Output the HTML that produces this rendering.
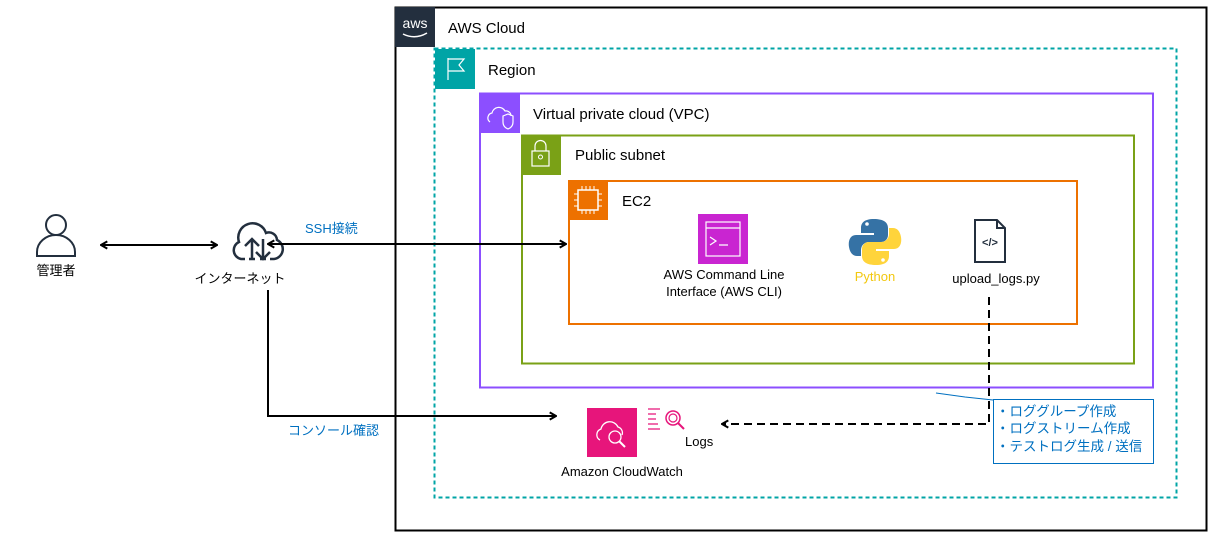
<!DOCTYPE html>
<html><head><meta charset="utf-8"><style>
html,body{margin:0;padding:0;background:#fff;}
svg{display:block;font-family:"Liberation Sans","Noto Sans CJK JP",sans-serif;}
</style></head><body>
<svg width="1216" height="543" viewBox="0 0 1216 543" xmlns="http://www.w3.org/2000/svg">
<defs>
<marker id="ah" viewBox="0 0 10 10" refX="9" refY="5" markerWidth="9" markerHeight="10" orient="auto-start-reverse" markerUnits="userSpaceOnUse">
<path d="M2,1 L9,5 L2,9" fill="none" stroke="#000" stroke-width="2.2"/>
</marker>
</defs>
<!-- AWS Cloud -->
<rect x="395.5" y="7.5" width="811" height="523" fill="none" stroke="#000" stroke-width="2"/>
<rect x="395" y="7" width="40" height="40" fill="#232F3E"/>
<text x="415" y="28" fill="#fff" font-size="14" text-anchor="middle">aws</text>
<path d="M403,34 Q415,40 427,33" stroke="#fff" fill="none" stroke-width="1.5"/>
<text x="448" y="33" font-size="15">AWS Cloud</text>
<!-- Region -->
<rect x="434.5" y="48.5" width="742" height="449" fill="none" stroke="#00A4A6" stroke-width="2" stroke-dasharray="4,3"/>
<rect x="435" y="49" width="40" height="40" fill="#00A4A6"/>
<path d="M448,80 V58 M448,59 H464 L459,65 L464,71 H448" stroke="#fff" fill="none" stroke-width="1.2"/>
<text x="488" y="75" font-size="15">Region</text>
<!-- VPC -->
<rect x="480" y="93.5" width="673" height="294" fill="none" stroke="#8C4FFF" stroke-width="2"/>
<rect x="480" y="93" width="40" height="40" fill="#8C4FFF"/>
<path d="M490,122 a5,5 0 0 1 2,-9 a7,7 0 0 1 13,-2 a5,5 0 0 1 6,5" stroke="#fff" fill="none" stroke-width="1.2"/>
<path d="M503,116 l5,-2 l5,2 v6 q0,5 -5,7 q-5,-2 -5,-7z" stroke="#fff" fill="none" stroke-width="1.2"/>
<text x="533" y="119" font-size="15">Virtual private cloud (VPC)</text>
<!-- Subnet -->
<rect x="522" y="135.5" width="612" height="228" fill="none" stroke="#7AA116" stroke-width="2"/>
<rect x="521" y="135" width="40" height="40" fill="#7AA116"/>
<rect x="532" y="151" width="17" height="15" fill="none" stroke="#fff" stroke-width="1.2"/>
<path d="M535,151 v-5 a5.5,5.5 0 0 1 11,0 v5" fill="none" stroke="#fff" stroke-width="1.2"/>
<circle cx="540.5" cy="157" r="2" fill="none" stroke="#fff"/>
<text x="575" y="160" font-size="15">Public subnet</text>
<!-- EC2 -->
<rect x="569" y="181" width="508" height="143" fill="none" stroke="#ED7100" stroke-width="2"/>
<rect x="568" y="180" width="40" height="40" fill="#ED7100"/>
<rect x="578" y="190" width="20" height="20" fill="none" stroke="#fff" stroke-width="1.5"/>
<path d="M582,190v-4M586,190v-4M590,190v-4M594,190v-4M582,210v4M586,210v4M590,210v4M594,210v4M578,194h-4M578,200h-4M578,206h-4M598,194h4M598,200h4M598,206h4" stroke="#fff"/>
<text x="622" y="206" font-size="15">EC2</text>
<!-- CLI -->
<rect x="698" y="214" width="50" height="50" fill="#C925D1"/>
<rect x="706" y="222" width="34" height="34" fill="none" stroke="#fff" stroke-width="1.2"/>
<path d="M706,228h34M710,237l6,4l-6,4M719,245h9" stroke="#fff" fill="none" stroke-width="1.2"/>
<text x="724" y="279" font-size="13" text-anchor="middle">AWS Command Line</text>
<text x="724" y="296" font-size="13" text-anchor="middle">Interface (AWS CLI)</text>
<!-- Python -->
<path d="M874,219 c-10,0 -13,4 -13,9 v5 h13 v2 h-18 c-6,0 -8,6 -7,12 c1,6 4,9 8,9 h4 v-6 c0,-5 4,-8 8,-8 h12 c4,0 7,-3 7,-7 v-7 c0,-6 -5,-9 -14,-9z" fill="#3572A5"/>
<path d="M876,265 c10,0 13,-4 13,-9 v-5 h-13 v-2 h18 c6,0 8,-6 7,-12 c-1,-6 -4,-9 -8,-9 h-4 v6 c0,5 -4,8 -8,8 h-12 c-4,0 -7,3 -7,7 v7 c0,6 5,9 14,9z" fill="#FFD43B"/>
<circle cx="867" cy="224" r="1.8" fill="#fff"/><circle cx="883" cy="260" r="1.8" fill="#fff"/>
<text x="875" y="281" font-size="13" fill="#F2C811" text-anchor="middle">Python</text>
<!-- File -->
<path d="M975,220 h22 l8,8 v34 h-30z M997,220 v8 h8" fill="none" stroke="#232F3E" stroke-width="2"/>
<text x="990" y="246" font-size="11" font-weight="bold" fill="#232F3E" text-anchor="middle">&lt;/&gt;</text>
<text x="996" y="283" font-size="13" text-anchor="middle">upload_logs.py</text>
<!-- CloudWatch -->
<rect x="587" y="408" width="50" height="49" fill="#E7157B"/>
<path d="M600,440 a6,6 0 0 1 1,-11 a9,9 0 0 1 17,-2 a6,6 0 0 1 4,8" stroke="#fff" fill="none" stroke-width="1.3"/>
<circle cx="615" cy="437" r="6" fill="none" stroke="#fff" stroke-width="1.3"/>
<path d="M619,441 l6,6" stroke="#fff" stroke-width="2"/>
<path d="M648,409h12M648,414h8M648,419h8M648,424h10M648,429h12" stroke="#E7157B" stroke-width="1.3"/>
<circle cx="673" cy="418" r="7" fill="none" stroke="#E7157B" stroke-width="1.5"/>
<circle cx="673" cy="418" r="4" fill="none" stroke="#E7157B" stroke-width="1.2"/>
<path d="M678,423 l6,6" stroke="#E7157B" stroke-width="2"/>
<text x="685" y="446" font-size="13">Logs</text>
<text x="622" y="476" font-size="13" text-anchor="middle">Amazon CloudWatch</text>
<!-- person -->
<circle cx="56" cy="225" r="10" fill="none" stroke="#232F3E" stroke-width="2"/>
<path d="M37,256 v-4 a19,17 0 0 1 38,0 v4z" fill="none" stroke="#232F3E" stroke-width="2"/>
<text x="56" y="275" font-size="13" text-anchor="middle">管理者</text>
<!-- internet cloud -->
<path d="M245,259 h-4 a9,9 0 0 1 -2,-17 a14,14 0 0 1 27,-9 a8,8 0 0 1 11,7 a10,10 0 0 1 -3,19 h-4" fill="none" stroke="#232F3E" stroke-width="2.5"/>
<path d="M252,259 v-20 M245,246 l7,-7 l7,7 M263,239 v20 M256,252 l7,7 l7,-7 M249,259 h6 M260,259 h6" fill="none" stroke="#232F3E" stroke-width="2.5"/>
<text x="240" y="283" font-size="13" text-anchor="middle">インターネット</text>
<!-- connectors -->
<line x1="101" y1="245" x2="217" y2="245" stroke="#000" stroke-width="2" marker-start="url(#ah)" marker-end="url(#ah)"/>
<line x1="268" y1="244" x2="566" y2="244" stroke="#000" stroke-width="2" marker-start="url(#ah)" marker-end="url(#ah)"/>
<text x="305" y="233" font-size="13" fill="#0070C0">SSH接続</text>
<path d="M268,290 V416 H556" fill="none" stroke="#000" stroke-width="2" marker-end="url(#ah)"/>
<text x="288" y="435" font-size="13" fill="#0070C0">コンソール確認</text>
<path d="M989,297 V424 H722" fill="none" stroke="#000" stroke-width="2" stroke-dasharray="8,5" marker-end="url(#ah)"/>
<!-- note -->
<path d="M936,393 L965,397 L993,400" stroke="#0070C0" fill="none" stroke-width="1"/>
<rect x="993.5" y="399.5" width="160" height="64" fill="#fff" stroke="#0070C0" stroke-width="1"/>
<text x="996" y="416" font-size="13.5" fill="#0070C0">・ロググループ作成</text>
<text x="996" y="433" font-size="13.5" fill="#0070C0">・ログストリーム作成</text>
<text x="996" y="451" font-size="13.5" fill="#0070C0">・テストログ生成 / 送信</text>
</svg>
</body></html>
